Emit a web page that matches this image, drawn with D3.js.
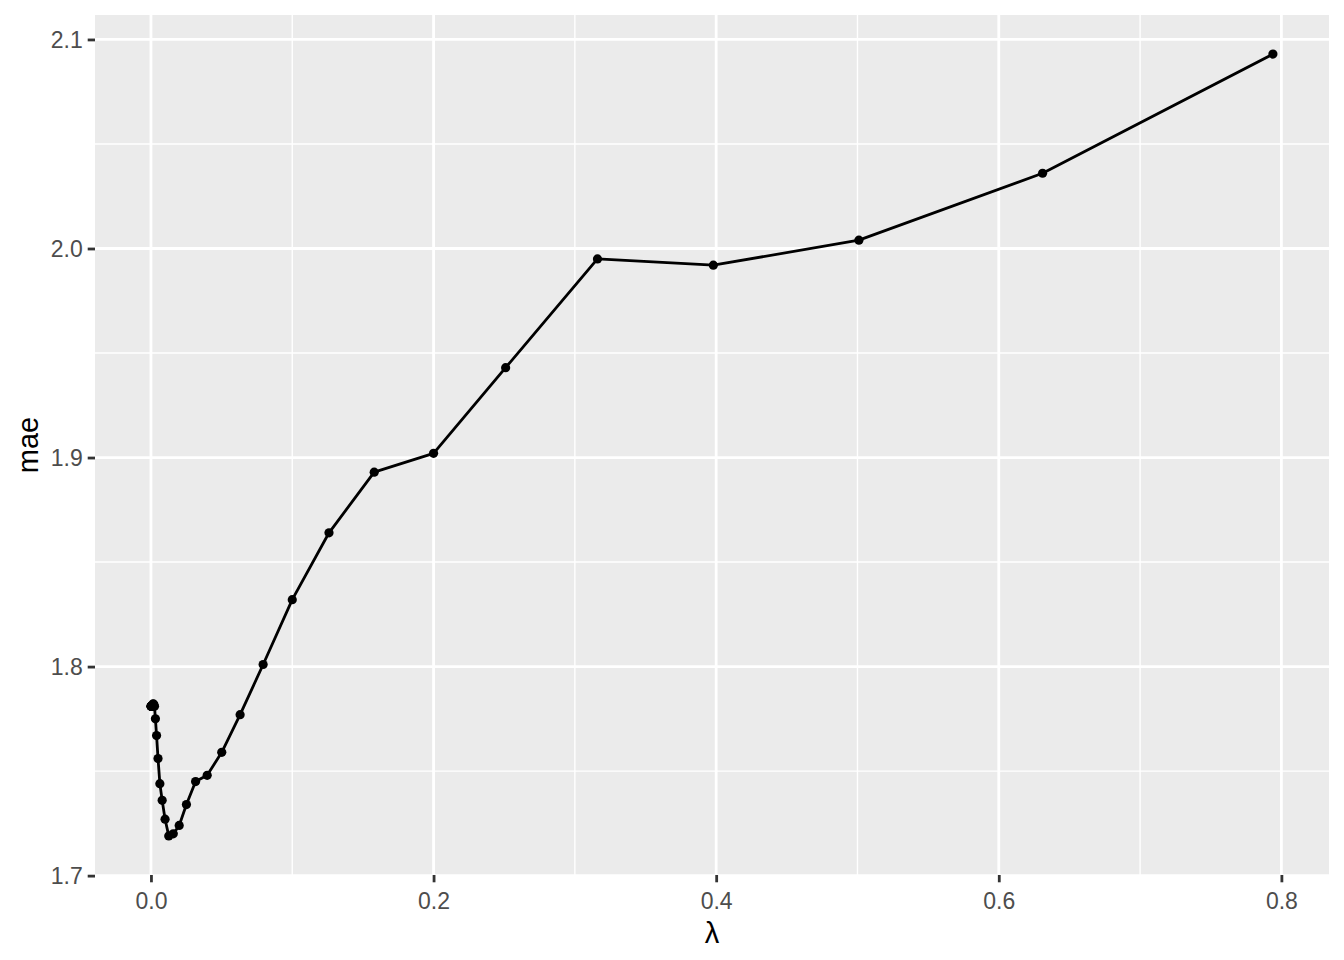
<!DOCTYPE html>
<html>
<head>
<meta charset="utf-8">
<script src="https://cdn.jsdelivr.net/npm/d3@7"></script>
<style>
  html, body { margin: 0; padding: 0; background: #fff; }
  svg { display: block; font-family: "Liberation Sans", Arial, Helvetica, sans-serif; }
</style>
</head>
<body>
<svg id="chart" width="1344" height="960"></svg>
<script>
// lambda values (x) and mean absolute error (y)
const lambda = [0.0001, 0.000126, 0.000158, 0.0002, 0.000251, 0.000316, 0.000398, 0.000501,
  0.000631, 0.000794, 0.001, 0.00126, 0.00158, 0.002, 0.00251, 0.00316, 0.00398, 0.00501,
  0.00631, 0.00794, 0.01, 0.0126, 0.0158, 0.02, 0.0251, 0.0316, 0.0398, 0.0501, 0.0631,
  0.0794, 0.1, 0.126, 0.158, 0.2, 0.251, 0.316, 0.398, 0.501, 0.631, 0.794];
const mae = [1.781, 1.781, 1.781, 1.781, 1.781, 1.781, 1.781, 1.781,
  1.781, 1.781, 1.781, 1.782, 1.782, 1.782, 1.781, 1.775, 1.767, 1.756,
  1.744, 1.736, 1.727, 1.719, 1.720, 1.724, 1.734, 1.745, 1.748, 1.759, 1.777,
  1.801, 1.832, 1.864, 1.893, 1.902, 1.943, 1.995, 1.992, 2.004, 2.036, 2.093];
const xTicks = [0.0, 0.2, 0.4, 0.6, 0.8];
const xMinor = [0.1, 0.3, 0.5, 0.7];
const yTicks = [1.7, 1.8, 1.9, 2.0, 2.1];
const yMinor = [1.75, 1.85, 1.95, 2.05];
const xTitle = "λ";
const yTitle = "mae";

const W = 1344, H = 960;
const panel = { left: 95, top: 15, right: 1329, bottom: 875 };

const data = lambda.map((l, i) => ({ x: l, y: mae[i] }));

// ggplot-like 5% expansion
const xe = d3.extent(lambda), ye = d3.extent(mae);
const xPad = (xe[1] - xe[0]) * 0.05, yPad = (ye[1] - ye[0]) * 0.05;
const x = d3.scaleLinear().domain([xe[0] - xPad, xe[1] + xPad]).range([panel.left, panel.right]);
const y = d3.scaleLinear().domain([ye[0] - yPad, ye[1] + yPad]).range([panel.bottom, panel.top]);

const svg = d3.select("#chart");

svg.append("rect")
  .attr("x", panel.left).attr("y", panel.top)
  .attr("width", panel.right - panel.left).attr("height", panel.bottom - panel.top)
  .attr("fill", "#EBEBEB");

const grid = svg.append("g");
grid.selectAll(".xminor").data(xMinor).join("line")
  .attr("x1", d => x(d)).attr("x2", d => x(d))
  .attr("y1", panel.top).attr("y2", panel.bottom)
  .attr("stroke", "#fff").attr("stroke-width", 1.4);
grid.selectAll(".yminor").data(yMinor).join("line")
  .attr("y1", d => y(d)).attr("y2", d => y(d))
  .attr("x1", panel.left).attr("x2", panel.right)
  .attr("stroke", "#fff").attr("stroke-width", 1.4);
grid.selectAll(".xmajor").data(xTicks).join("line")
  .attr("x1", d => x(d)).attr("x2", d => x(d))
  .attr("y1", panel.top).attr("y2", panel.bottom)
  .attr("stroke", "#fff").attr("stroke-width", 2.8);
grid.selectAll(".ymajor").data(yTicks).join("line")
  .attr("y1", d => y(d)).attr("y2", d => y(d))
  .attr("x1", panel.left).attr("x2", panel.right)
  .attr("stroke", "#fff").attr("stroke-width", 2.8);

// axes
const xAxis = d3.axisBottom(x).tickValues(xTicks).tickFormat(d3.format(".1f")).tickSize(7.3).tickPadding(5);
const yAxis = d3.axisLeft(y).tickValues(yTicks).tickFormat(d3.format(".1f")).tickSize(7.3).tickPadding(5);

const gx = svg.append("g").attr("transform", `translate(0,${panel.bottom})`).call(xAxis);
const gy = svg.append("g").attr("transform", `translate(${panel.left},0)`).call(yAxis);
[gx, gy].forEach(g => {
  g.select(".domain").remove();
  g.selectAll(".tick line").attr("stroke", "#333333").attr("stroke-width", 2.8);
  g.selectAll(".tick text").attr("fill", "#4D4D4D").attr("font-size", "23px")
    .attr("font-family", "\"Liberation Sans\", Arial, sans-serif");
});
gx.selectAll(".tick text").attr("dy", "0.95em");
gy.selectAll(".tick text").attr("dy", "0.35em");

// line + points
svg.append("path")
  .datum(data)
  .attr("fill", "none")
  .attr("stroke", "#000")
  .attr("stroke-width", 2.8)
  .attr("stroke-linejoin", "round")
  .attr("d", d3.line().x(d => x(d.x)).y(d => y(d.y)));

svg.append("g").selectAll("circle").data(data).join("circle")
  .attr("cx", d => x(d.x)).attr("cy", d => y(d.y)).attr("r", 4.6).attr("fill", "#000");

// titles
svg.append("text")
  .attr("x", (panel.left + panel.right) / 2).attr("y", 943)
  .attr("text-anchor", "middle").attr("font-size", "29px").attr("fill", "#000")
  .text(xTitle);
svg.append("text")
  .attr("transform", `translate(38,${(panel.top + panel.bottom) / 2}) rotate(-90)`)
  .attr("text-anchor", "middle").attr("font-size", "29px").attr("fill", "#000")
  .text(yTitle);
</script>
</body>
</html>
